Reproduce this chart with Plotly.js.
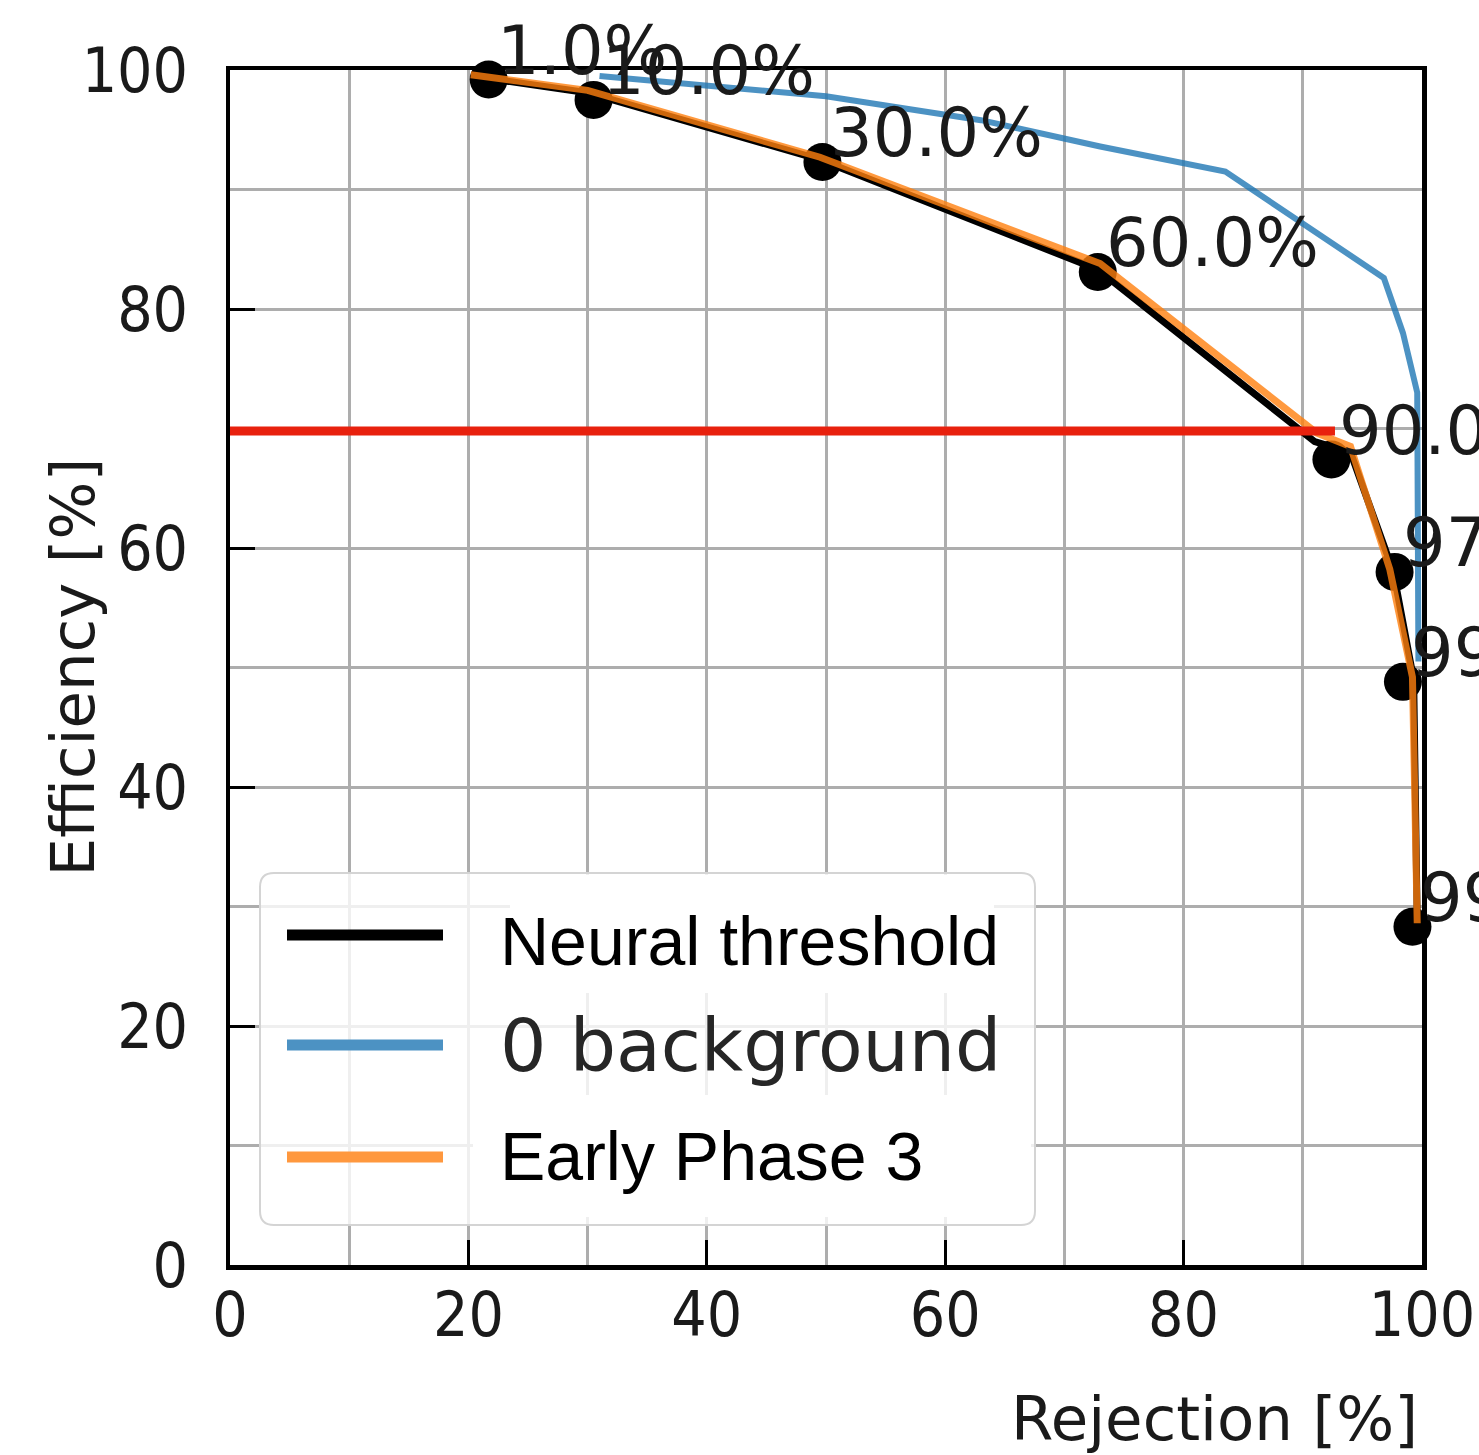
<!DOCTYPE html>
<html>
<head>
<meta charset="utf-8">
<script src="https://cdn.plot.ly/plotly-3.0.1.min.js"></script>
<style>html,body{margin:0;padding:0;background:#fff;}</style>
</head>
<body>
<div id="chart" style="width:1479px;height:1455px;"></div>
<script>
// ---- data ----
// threshold points (black dots) and their labels
var thresholdX = [21.7, 30.5, 49.7, 72.8, 92.4, 97.7, 98.4, 99.2];
var thresholdY = [99.2, 97.5, 92.3, 83.1, 67.4, 58.0, 48.8, 28.3];
var thresholdLabels = ["1.0%", "10.0%", "30.0%", "60.0%", "90.0%", "97.0%", "99.0%", "99.9%"];

// Neural threshold curve (black)
var neuralX = [20.2, 30.0, 49.5, 72.8, 91.0, 94.0, 97.6, 99.3, 99.6];
var neuralY = [99.5, 98.1, 92.5, 83.3, 68.9, 68.0, 58.0, 49.0, 28.6];

// 0 background curve (blue)
var backgroundX = [31.0, 40.0, 50.0, 63.0, 73.0, 83.5, 96.8, 98.4, 99.6, 99.7];
var backgroundY = [99.5, 98.7, 97.8, 95.8, 93.6, 91.5, 82.6, 78.0, 73.0, 50.5];

// Early Phase 3 curve (orange)
var earlyX = [20.2, 30.0, 49.5, 73.0, 91.2, 94.0, 97.3, 99.2, 99.6];
var earlyY = [99.6, 98.3, 92.7, 83.8, 69.6, 68.5, 58.2, 49.2, 28.6];

// hand-drawn red reference line
var markX = [0, 92.7];
var markY = [69.8, 69.8];

var seriesNames = ["Neural threshold", "0 background", "Early Phase 3"];
var xTitle = "Rejection [%]";
var yTitle = "Efficiency [%]";

// ---- styling ----
var DV = "DejaVu Sans, sans-serif";
var DVC = "DejaVu Sans Condensed, DejaVu Sans, sans-serif";
var ARIAL = "Liberation Sans, Arial, sans-serif";
var GRID = "#adadad";
var BLUE = "rgba(31,119,180,0.8)";
var ORANGE = "rgba(255,127,14,0.8)";

var traces = [
  {x: neuralX, y: neuralY, mode: "lines", name: seriesNames[0],
   line: {color: "#000000", width: 7}, showlegend: false},
  {x: thresholdX, y: thresholdY, mode: "markers", name: "Thresholds",
   marker: {color: "#000000", size: 38}, showlegend: false, cliponaxis: false},
  {x: backgroundX, y: backgroundY, mode: "lines", name: seriesNames[1],
   line: {color: BLUE, width: 6}, showlegend: false},
  {x: earlyX, y: earlyY, mode: "lines", name: seriesNames[2],
   line: {color: ORANGE, width: 7}, showlegend: false},
  {x: markX, y: markY, mode: "lines", name: "",
   line: {color: "#e8210e", width: 9}, showlegend: false, hoverinfo: "skip"}
];

var annotations = thresholdLabels.map(function (t, i) {
  return {x: thresholdX[i], y: thresholdY[i], xref: "x", yref: "y", text: t,
    showarrow: false, xanchor: "left", yanchor: "bottom", xshift: 6, yshift: -12,
    font: {family: DV, size: 67, color: "#1a1a1a"}};
});
annotations.push({x: 1, y: -0.1285, xref: "paper", yref: "paper", text: xTitle,
  showarrow: false, xanchor: "right", yanchor: "middle", xshift: -2,
  font: {family: DV, size: 61, color: "#1a1a1a"}});
annotations.push({x: (72 - 230) / 1192, y: 0.5, xref: "paper", yref: "paper", text: yTitle,
  showarrow: false, xanchor: "center", yanchor: "middle", textangle: -90,
  font: {family: DV, size: 61, color: "#1a1a1a"}});

// manual legend (matplotlib-style frame)
var PW = 1192, PH = 1195;
function px2x(p) { return (p - 230) / PW; }
function px2y(p) { return (1265 - p) / PH; }
var bx0 = px2x(260), bx1 = px2x(1035), by0 = px2y(1225), by1 = px2y(873);
var rx = 14 / PW, ry = 14 / PH;
var boxPath = "M " + (bx0 + rx) + "," + by1 + " L " + (bx1 - rx) + "," + by1 +
  " Q " + bx1 + "," + by1 + " " + bx1 + "," + (by1 - ry) +
  " L " + bx1 + "," + (by0 + ry) + " Q " + bx1 + "," + by0 + " " + (bx1 - rx) + "," + by0 +
  " L " + (bx0 + rx) + "," + by0 + " Q " + bx0 + "," + by0 + " " + bx0 + "," + (by0 + ry) +
  " L " + bx0 + "," + (by1 - ry) + " Q " + bx0 + "," + by1 + " " + (bx0 + rx) + "," + by1 + " Z";

var legendColors = ["#000000", "#4c92c3", "#ff983e"];
var legendRowsPx = [935, 1045, 1157];
var legendTextPx = [941, 1045, 1156];
var legendFonts = [{family: ARIAL, size: 68, color: "#000000"},
                   {family: DV, size: 73, color: "#262626"},
                   {family: ARIAL, size: 68, color: "#000000"}];

var shapes = [
  {type: "path", xref: "paper", yref: "paper", path: boxPath, layer: "above",
   fillcolor: "rgba(255,255,255,0.8)", line: {color: "#d4d4d4", width: 2}},
  {type: "rect", xref: "paper", yref: "paper", layer: "above",
   x0: px2x(510), x1: px2x(994), y0: px2y(993), y1: px2y(875),
   fillcolor: "#ffffff", line: {width: 0}},
  {type: "rect", xref: "paper", yref: "paper", layer: "above",
   x0: px2x(473), x1: px2x(1031), y0: px2y(1217), y1: px2y(1095),
   fillcolor: "#ffffff", line: {width: 0}}
];
seriesNames.forEach(function (n, i) {
  shapes.push({type: "line", xref: "paper", yref: "paper", layer: "above",
    x0: px2x(287), x1: px2x(443), y0: px2y(legendRowsPx[i]), y1: px2y(legendRowsPx[i]),
    line: {color: legendColors[i], width: 11}});
  annotations.push({x: px2x(500), y: px2y(legendTextPx[i]), xref: "paper", yref: "paper",
    text: n, showarrow: false, xanchor: "left", yanchor: "middle", xshift: -2,
    font: legendFonts[i]});
});

function axisBase() {
  return {
    range: [0, 100], autorange: false, tick0: 0, dtick: 20,
    ticks: "inside", ticklen: 25, tickwidth: 3, tickcolor: "#000000",
    showline: true, linewidth: 4.5, linecolor: "#000000", mirror: true,
    showgrid: true, gridcolor: GRID, gridwidth: 3, zeroline: false,
    minor: {dtick: 10, tick0: 0, showgrid: true, gridcolor: GRID, gridwidth: 3, ticks: ""},
    tickfont: {family: DVC, size: 62, color: "#1a1a1a"},
    fixedrange: true
  };
}
var xaxis = axisBase();
xaxis.ticklabelstandoff = -8;
var yaxis = axisBase();
yaxis.ticklabelstandoff = 25;

var layout = {
  width: 1479, height: 1455, autosize: false,
  margin: {l: 230, r: 57, t: 70, b: 190, pad: 0},
  paper_bgcolor: "#ffffff", plot_bgcolor: "#ffffff",
  xaxis: xaxis, yaxis: yaxis,
  showlegend: false,
  shapes: shapes, annotations: annotations
};

Plotly.newPlot("chart", traces, layout, {displayModeBar: false, staticPlot: true});
</script>
</body>
</html>
